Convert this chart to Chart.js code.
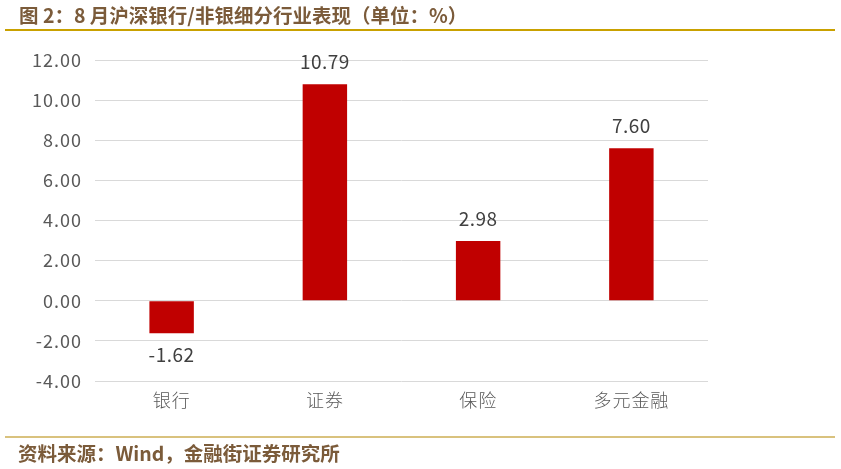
<!DOCTYPE html>
<html><head><meta charset="utf-8">
<script src="https://cdn.jsdelivr.net/npm/chart.js@4"></script>
<style>
html,body{margin:0;padding:0;background:#fff;width:841px;height:469px;overflow:hidden;}
#wrap{position:absolute;left:0;top:0;width:841px;height:469px;}
.title{position:absolute;left:19px;top:2px;font:bold 19.5px "Noto Sans CJK SC";color:#7B5B3A;white-space:nowrap;line-height:26px;}
.line1{position:absolute;left:5px;top:29px;width:830px;height:2px;background:#C9A100;}
.line2{position:absolute;left:5px;top:436px;width:830px;height:2px;background:#D9C27E;}
.src{position:absolute;left:18px;top:440px;font:bold 19.5px "Noto Sans CJK SC";color:#7B5B3A;white-space:nowrap;line-height:26px;}
</style></head>
<body>
<div id="wrap"><canvas id="c" width="841" height="469"></canvas></div>
<div class="title">图 2：8 月沪深银行/非银细分行业表现（单位：%）</div>
<div class="line1"></div>
<div class="line2"></div>
<div class="src">资料来源：Wind，金融街证券研究所</div>
<script>
const categories = ["银行", "证券", "保险", "多元金融"];
const values = [-1.62, 10.79, 2.98, 7.60];
const yTicks = [-4, -2, 0, 2, 4, 6, 8, 10, 12];

const labelPlugin = {
  id: 'valLabels',
  beforeDraw(chart) { chart.ctx.letterSpacing = '1px'; },
  afterDatasetsDraw(chart) {
    const ctx = chart.ctx;
    const meta = chart.getDatasetMeta(0);
    ctx.save();
    ctx.letterSpacing = '0.5px';
    ctx.font = '19px "Noto Sans CJK SC"';
    ctx.fillStyle = '#404040';
    ctx.textAlign = 'center';
    ctx.textBaseline = 'middle';
    meta.data.forEach((bar, i) => {
      const v = values[i];
      const y = v >= 0 ? bar.y - 22 : bar.y + 22;
      ctx.fillText(v.toFixed(2), bar.x, y);
    });
    ctx.restore();
    ctx.letterSpacing = '1.5px';
  },
  afterDraw(chart) { chart.ctx.letterSpacing = '0px'; }
};

new Chart(document.getElementById('c'), {
  type: 'bar',
  data: {
    labels: categories,
    datasets: [{
      data: values,
      backgroundColor: '#C00000',
      borderWidth: 0,
      barPercentage: 0.29,
      categoryPercentage: 1.0
    }]
  },
  options: {
    responsive: false,
    animation: false,
    devicePixelRatio: 1,
    layout: { padding: { left: 0, right: 133, top: 60, bottom: 48 } },
    plugins: { legend: { display: false }, tooltip: { enabled: false } },
    scales: {
      x: {
        z: 1,
        grid: { display: false, drawTicks: false },
        border: { display: false },
        ticks: { color: '#595959', font: { family: 'Noto Sans CJK SC', size: 18, weight: '300' }, padding: 8, maxRotation: 0, autoSkip: false },
        afterFit(s) { s.height = 40; }
      },
      y: {
        min: -4, max: 12,
        afterBuildTicks(s) { s.ticks = yTicks.map(v => ({ value: v })); },
        grid: { color: '#D9D9D9', lineWidth: 1, drawTicks: false },
        border: { display: false },
        ticks: {
          color: '#595959',
          font: { family: 'Noto Sans CJK SC', size: 18 },
          padding: 13,
          callback: v => v.toFixed(2)
        },
        afterFit(s) { s.width = 95; }
      }
    }
  },
  plugins: [labelPlugin]
});
</script>
</body></html>
